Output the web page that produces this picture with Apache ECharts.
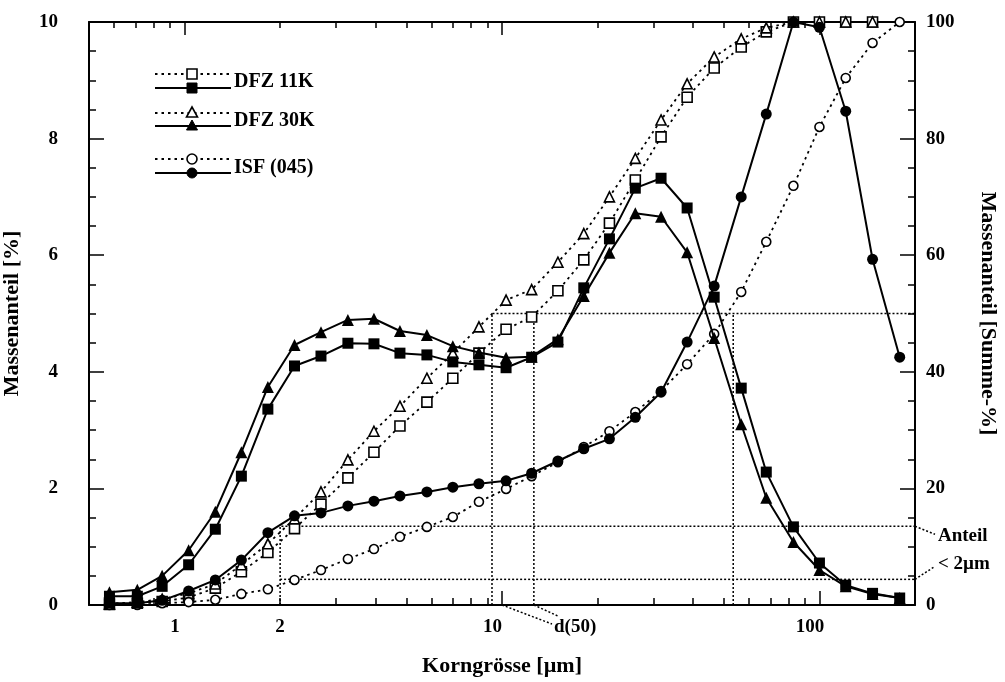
<!DOCTYPE html>
<html>
<head>
<meta charset="utf-8">
<script src="https://cdn.jsdelivr.net/npm/echarts@6/dist/echarts.min.js"></script>
<style>
html, body { margin: 0; padding: 0; background: #fff; }
#main { width: 1005px; height: 682px; }
</style>
</head>
<body>
<div id="main"></div>
<script>
// particle size classes [µm]
var sizes = [0.58, 0.71, 0.85, 1.03, 1.25, 1.51, 1.83, 2.22, 2.69, 3.27, 3.95, 4.77, 5.80, 7.00, 8.46, 10.3,
             12.4, 15.0, 18.1, 21.8, 26.3, 31.7, 38.3, 46.6, 56.7, 68.0, 82.8, 100, 121, 147, 179];

// Massenanteil [%]
var dfz11kFreq = [0.15, 0.15, 0.32, 0.69, 1.30, 2.21, 3.36, 4.10, 4.27, 4.49, 4.48, 4.32, 4.29, 4.17, 4.12, 4.07,
                  4.25, 4.51, 5.44, 6.28, 7.15, 7.32, 6.81, 5.28, 3.72, 2.28, 1.34, 0.72, 0.34, 0.20, 0.12];
var dfz30kFreq = [0.22, 0.26, 0.50, 0.94, 1.60, 2.62, 3.74, 4.46, 4.68, 4.89, 4.91, 4.70, 4.63, 4.44, 4.33, 4.24,
                  4.26, 4.56, 5.30, 6.04, 6.72, 6.66, 6.05, 4.58, 3.10, 1.84, 1.08, 0.60, 0.32, 0.19, 0.12];
var isfFreq    = [0.03, 0.03, 0.08, 0.24, 0.43, 0.77, 1.24, 1.53, 1.58, 1.70, 1.78, 1.87, 1.94, 2.02, 2.08, 2.13,
                  2.26, 2.47, 2.68, 2.85, 3.22, 3.65, 4.51, 5.47, 7.00, 8.42, 10.0, 9.91, 8.47, 5.93, 4.25];

// Massenanteil [Summe-%]
var dfz11kCum = [0.1, 0.3, 0.6, 1.3, 2.9, 5.7, 9.0, 13.1, 17.3, 21.8, 26.2, 30.7, 34.8, 38.9, 43.2, 47.3,
                 49.4, 53.9, 59.2, 65.5, 72.9, 80.3, 87.1, 92.1, 95.7, 98.3, 100, 100, 100, 100, null];
var dfz30kCum = [0.2, 0.5, 1.0, 2.0, 3.6, 6.9, 10.5, 14.8, 19.4, 24.9, 29.8, 34.1, 38.9, 43.2, 47.7, 52.3,
                 54.1, 58.8, 63.7, 70.0, 76.6, 83.2, 89.4, 94.0, 97.1, 99.0, 100, 100, 100, 100, null];
var isfCum    = [0, 0, 0.3, 0.5, 0.9, 1.9, 2.7, 4.3, 6.0, 7.9, 9.6, 11.7, 13.4, 15.1, 17.7, 19.9,
                 22.1, 24.5, 27.1, 29.8, 33.1, 36.7, 41.3, 46.5, 53.7, 62.3, 71.9, 82.0, 90.4, 96.4, 100];

// reference lines
var d50Values = [9.3, 12.6, 53.5];        // d(50) of DFZ 30K, DFZ 11K, ISF
var anteilUnter2 = [13.5, 4.4];           // Summe-% below 2 µm
var grenze = 2;

// axis ticks / labels
var xLabels = [1, 2, 10, 100];
var xMajorTicks = [1, 10, 100];
var xMinorTicks = [0.6, 0.7, 0.8, 0.9, 2, 3, 4, 5, 6, 7, 8, 9, 20, 30, 40, 50, 60, 70, 80, 90];

var FONT = 'Liberation Serif';
var chart = echarts.init(document.getElementById('main'));

function pts(values) {
    var out = [];
    for (var i = 0; i < sizes.length; i++) {
        if (values[i] != null) out.push([sizes[i], values[i]]);
    }
    return out;
}

function curve(name, values, yIdx, symbol, size, filled) {
    return {
        name: name, type: 'line', xAxisIndex: 0, yAxisIndex: yIdx,
        data: pts(values),
        symbol: symbol, symbolSize: size,
        z: filled ? 4 : 3,
        lineStyle: filled ? { color: '#000', width: 2 } : { color: '#000', width: 1.8, type: [2.5, 4] },
        itemStyle: filled ? { color: '#000' } : { color: '#fff', borderColor: '#000', borderWidth: 1.6 },
        emphasis: { disabled: true }
    };
}

function refLine(points) {
    return {
        type: 'line', xAxisIndex: 0, yAxisIndex: 1, data: points, symbol: 'none', z: 2,
        lineStyle: { color: '#000', width: 1.5, type: [2, 2] },
        emphasis: { disabled: true }, silent: true
    };
}

var series = [
    refLine([[grenze, 0], [grenze, anteilUnter2[0]], [200, anteilUnter2[0]]]),
    refLine([[grenze, anteilUnter2[1]], [200, anteilUnter2[1]]]),
    refLine([[d50Values[0], 0], [d50Values[0], 50], [200, 50]]),
    refLine([[d50Values[1], 0], [d50Values[1], 50]]),
    refLine([[d50Values[2], 0], [d50Values[2], 50]]),
    curve('DFZ 11K Summe', dfz11kCum, 1, 'rect', 10, false),
    curve('DFZ 30K Summe', dfz30kCum, 1, 'triangle', 10, false),
    curve('ISF Summe', isfCum, 1, 'circle', 9, false),
    curve('DFZ 11K', dfz11kFreq, 0, 'rect', 11, true),
    curve('DFZ 30K', dfz30kFreq, 0, 'triangle', 12, true),
    curve('ISF (045)', isfFreq, 0, 'circle', 11, true)
];

var labelFont = { fontFamily: FONT, fontWeight: 'bold', fontSize: 19, color: '#000' };
var nameFont = { fontFamily: FONT, fontWeight: 'bold', fontSize: 22, color: '#000' };

function logAxis(pos, ticks, len, showLine) {
    return {
        type: 'log', logBase: 10, min: 0.5, max: 200, position: pos,
        axisLine: { show: showLine, lineStyle: { color: '#000', width: 2 } },
        axisTick: { show: true, inside: true, length: len, customValues: ticks, lineStyle: { color: '#000', width: 1.5 } },
        axisLabel: { show: false },
        splitLine: { show: false },
        minorTick: { show: false }
    };
}

var xMain = logAxis('bottom', xMinorTicks, 7, true);
xMain.axisLabel = {
    show: true, customValues: xLabels, margin: 13,
    formatter: function (v) {
        var r = Math.round(v);
        return r === 2 ? '{c|2}' : '{s|' + r + '}';
    },
    rich: {
        c: labelFont,
        s: { fontFamily: FONT, fontWeight: 'bold', fontSize: 19, color: '#000', padding: [0, 19, 0, 0] }
    }
};
xMain.name = 'Korngrösse [µm]';
xMain.nameLocation = 'middle';
xMain.nameGap = 50;
xMain.nameTextStyle = nameFont;

var option = {
    animation: false,
    backgroundColor: '#fff',
    grid: { left: 89, right: 90, top: 22, bottom: 77, containLabel: false, outerBoundsMode: 'none' },
    xAxis: [
        xMain,
        logAxis('bottom', xMajorTicks, 14, false),
        logAxis('top', xMinorTicks, 6, true),
        logAxis('top', xMajorTicks, 13, false)
    ],
    yAxis: [
        {
            type: 'value', min: 0, max: 10, interval: 2, position: 'left',
            axisLine: { show: true, lineStyle: { color: '#000', width: 2 } },
            axisTick: { show: true, inside: true, length: 15, lineStyle: { color: '#000', width: 1.5 } },
            minorTick: { show: true, splitNumber: 4, length: 7, lineStyle: { color: '#000', width: 1.5 } },
            axisLabel: Object.assign({ margin: 31 }, labelFont),
            splitLine: { show: false },
            name: 'Massenanteil [%]', nameLocation: 'middle', nameGap: 66, nameRotate: 90,
            nameTextStyle: nameFont
        },
        {
            type: 'value', min: 0, max: 100, interval: 20, position: 'right',
            axisLine: { show: true, lineStyle: { color: '#000', width: 2 } },
            axisTick: { show: true, inside: true, length: 15, lineStyle: { color: '#000', width: 1.5 } },
            minorTick: { show: true, splitNumber: 4, length: 7, lineStyle: { color: '#000', width: 1.5 } },
            axisLabel: Object.assign({ margin: 11 }, labelFont),
            splitLine: { show: false },
            name: 'Massenanteil [Summe-%]', nameLocation: 'middle', nameGap: 62, nameRotate: -90,
            nameTextStyle: nameFont
        }
    ],
    series: series
};

chart.setOption(option);

// legend drawn as graphic (two sample lines per entry)
var legendRows = [
    { label: 'DFZ 11K', sym: 'rect', yOpen: 74, yFilled: 88, yText: 82 },
    { label: 'DFZ 30K', sym: 'triangle', yOpen: 113, yFilled: 126, yText: 121 },
    { label: 'ISF (045)', sym: 'circle', yOpen: 159, yFilled: 173, yText: 168 }
];

function marker(sym, cx, cy, filled) {
    var style = filled ? { fill: '#000', stroke: '#000', lineWidth: 1 } : { fill: '#fff', stroke: '#000', lineWidth: 1.6 };
    if (sym === 'rect') return { type: 'rect', shape: { x: cx - 5, y: cy - 5, width: 10, height: 10 }, style: style, z: 10 };
    if (sym === 'triangle') return { type: 'polygon', shape: { points: [[cx, cy - 6], [cx + 5.5, cy + 4], [cx - 5.5, cy + 4]] }, style: style, z: 10 };
    return { type: 'circle', shape: { cx: cx, cy: cy, r: 5 }, style: style, z: 10 };
}

var graphics = [];
legendRows.forEach(function (r) {
    graphics.push({ type: 'line', shape: { x1: 155, y1: r.yOpen, x2: 229, y2: r.yOpen }, style: { stroke: '#000', lineWidth: 1.8, lineDash: [2.5, 4] }, z: 9 });
    graphics.push({ type: 'line', shape: { x1: 155, y1: r.yFilled, x2: 231, y2: r.yFilled }, style: { stroke: '#000', lineWidth: 2 }, z: 9 });
    graphics.push(marker(r.sym, 192, r.yOpen, false));
    graphics.push(marker(r.sym, 192, r.yFilled, true));
    graphics.push({ type: 'text', x: 234, y: r.yText, style: { text: r.label, font: 'bold 20px "Liberation Serif"', fill: '#000', textVerticalAlign: 'middle' }, z: 10 });
});

// annotations anchored to axis positions
var xRight = chart.convertToPixel({ xAxisIndex: 0 }, 200);
var yBottom = chart.convertToPixel({ yAxisIndex: 1 }, 0);
var yHigh = chart.convertToPixel({ yAxisIndex: 1 }, anteilUnter2[0]);
var yLow = chart.convertToPixel({ yAxisIndex: 1 }, anteilUnter2[1]);
var xD1 = chart.convertToPixel({ xAxisIndex: 0 }, 10);
var xD2 = chart.convertToPixel({ xAxisIndex: 0 }, d50Values[1]);
var dash = { stroke: '#000', lineWidth: 1.5, lineDash: [2, 2] };

graphics.push({ type: 'line', shape: { x1: xRight, y1: yHigh, x2: xRight + 20, y2: yHigh + 8 }, style: dash });
graphics.push({ type: 'line', shape: { x1: xRight, y1: yLow, x2: xRight + 20, y2: yLow - 13 }, style: dash });
graphics.push({ type: 'text', x: xRight + 23, y: yHigh + 10, style: { text: 'Anteil', font: 'bold 19px "Liberation Serif"', fill: '#000', textVerticalAlign: 'middle' } });
graphics.push({ type: 'text', x: xRight + 23, y: yLow - 15, style: { text: '< 2µm', font: 'bold 19px "Liberation Serif"', fill: '#000', textVerticalAlign: 'middle' } });

graphics.push({ type: 'line', shape: { x1: xD1, y1: yBottom, x2: xD1 + 50, y2: yBottom + 19 }, style: dash });
graphics.push({ type: 'line', shape: { x1: xD2, y1: yBottom, x2: xD2 + 24, y2: yBottom + 11 }, style: dash });
graphics.push({ type: 'text', x: xD1 + 52, y: yBottom + 22, style: { text: 'd(50)', font: 'bold 19px "Liberation Serif"', fill: '#000', textVerticalAlign: 'middle' } });

chart.setOption({ graphic: graphics });
</script>
</body>
</html>
